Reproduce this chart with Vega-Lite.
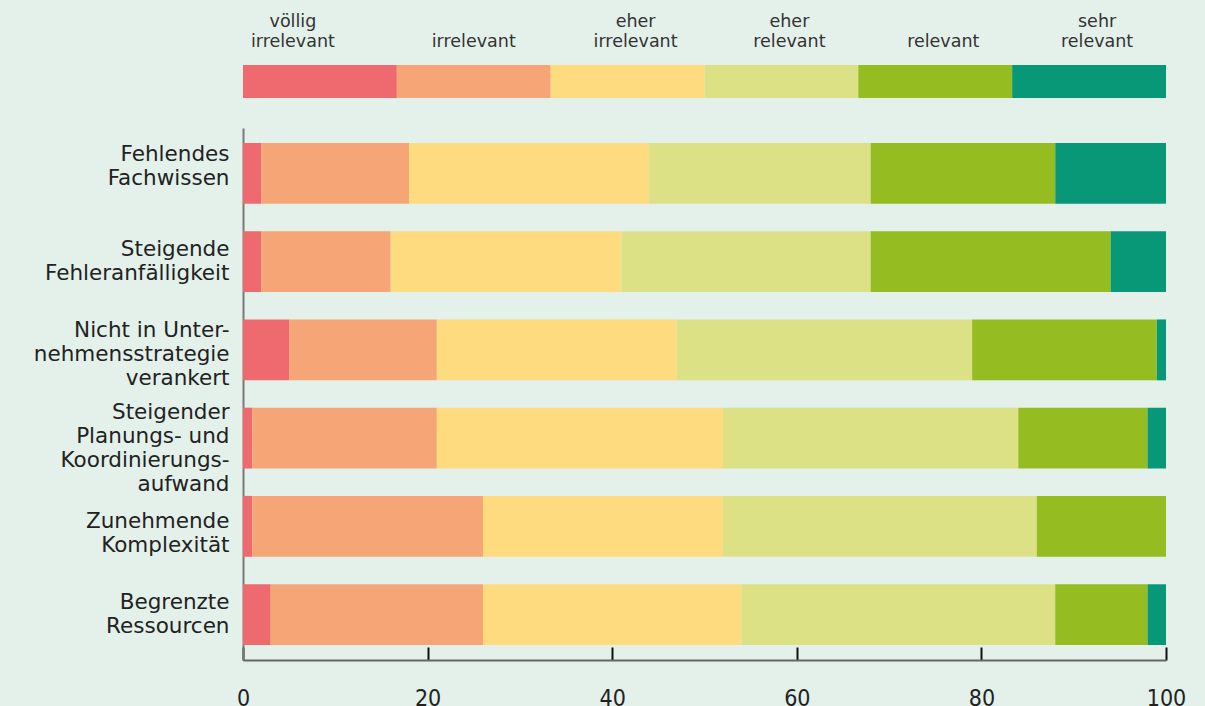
{
  "$schema": "https://vega.github.io/schema/vega-lite/v6.json",
  "background": "#e3f1ea",
  "padding": {"left": 0, "top": 0, "right": 20, "bottom": 0},
  "config": {
    "view": {"stroke": null},
    "font": "DejaVu Sans",
    "concat": {"spacing": 30}
  },
  "datasets": {
    "stufen": [
      {"Bewertung": "völlig\nirrelevant"},
      {"Bewertung": "irrelevant"},
      {"Bewertung": "eher\nirrelevant"},
      {"Bewertung": "eher\nrelevant"},
      {"Bewertung": "relevant"},
      {"Bewertung": "sehr\nrelevant"}
    ],
    "umfrage": [
      {"Aspekt": "Fehlendes\u00a0\nFachwissen", "Bewertung": "völlig\nirrelevant", "Stufe": 1, "Anteil": 2},
      {"Aspekt": "Fehlendes\u00a0\nFachwissen", "Bewertung": "irrelevant", "Stufe": 2, "Anteil": 16},
      {"Aspekt": "Fehlendes\u00a0\nFachwissen", "Bewertung": "eher\nirrelevant", "Stufe": 3, "Anteil": 26},
      {"Aspekt": "Fehlendes\u00a0\nFachwissen", "Bewertung": "eher\nrelevant", "Stufe": 4, "Anteil": 24},
      {"Aspekt": "Fehlendes\u00a0\nFachwissen", "Bewertung": "relevant", "Stufe": 5, "Anteil": 20},
      {"Aspekt": "Fehlendes\u00a0\nFachwissen", "Bewertung": "sehr\nrelevant", "Stufe": 6, "Anteil": 12},

      {"Aspekt": "Steigende\u00a0\nFehleranfälligkeit", "Bewertung": "völlig\nirrelevant", "Stufe": 1, "Anteil": 2},
      {"Aspekt": "Steigende\u00a0\nFehleranfälligkeit", "Bewertung": "irrelevant", "Stufe": 2, "Anteil": 14},
      {"Aspekt": "Steigende\u00a0\nFehleranfälligkeit", "Bewertung": "eher\nirrelevant", "Stufe": 3, "Anteil": 25},
      {"Aspekt": "Steigende\u00a0\nFehleranfälligkeit", "Bewertung": "eher\nrelevant", "Stufe": 4, "Anteil": 27},
      {"Aspekt": "Steigende\u00a0\nFehleranfälligkeit", "Bewertung": "relevant", "Stufe": 5, "Anteil": 26},
      {"Aspekt": "Steigende\u00a0\nFehleranfälligkeit", "Bewertung": "sehr\nrelevant", "Stufe": 6, "Anteil": 6},

      {"Aspekt": "Nicht in Unter-\u00a0\nnehmensstrategie\u00a0\nverankert", "Bewertung": "völlig\nirrelevant", "Stufe": 1, "Anteil": 5},
      {"Aspekt": "Nicht in Unter-\u00a0\nnehmensstrategie\u00a0\nverankert", "Bewertung": "irrelevant", "Stufe": 2, "Anteil": 16},
      {"Aspekt": "Nicht in Unter-\u00a0\nnehmensstrategie\u00a0\nverankert", "Bewertung": "eher\nirrelevant", "Stufe": 3, "Anteil": 26},
      {"Aspekt": "Nicht in Unter-\u00a0\nnehmensstrategie\u00a0\nverankert", "Bewertung": "eher\nrelevant", "Stufe": 4, "Anteil": 32},
      {"Aspekt": "Nicht in Unter-\u00a0\nnehmensstrategie\u00a0\nverankert", "Bewertung": "relevant", "Stufe": 5, "Anteil": 20},
      {"Aspekt": "Nicht in Unter-\u00a0\nnehmensstrategie\u00a0\nverankert", "Bewertung": "sehr\nrelevant", "Stufe": 6, "Anteil": 1},

      {"Aspekt": "Steigender\u00a0\nPlanungs- und\u00a0\nKoordinierungs-\u00a0\naufwand\u00a0", "Bewertung": "völlig\nirrelevant", "Stufe": 1, "Anteil": 1},
      {"Aspekt": "Steigender\u00a0\nPlanungs- und\u00a0\nKoordinierungs-\u00a0\naufwand\u00a0", "Bewertung": "irrelevant", "Stufe": 2, "Anteil": 20},
      {"Aspekt": "Steigender\u00a0\nPlanungs- und\u00a0\nKoordinierungs-\u00a0\naufwand\u00a0", "Bewertung": "eher\nirrelevant", "Stufe": 3, "Anteil": 31},
      {"Aspekt": "Steigender\u00a0\nPlanungs- und\u00a0\nKoordinierungs-\u00a0\naufwand\u00a0", "Bewertung": "eher\nrelevant", "Stufe": 4, "Anteil": 32},
      {"Aspekt": "Steigender\u00a0\nPlanungs- und\u00a0\nKoordinierungs-\u00a0\naufwand\u00a0", "Bewertung": "relevant", "Stufe": 5, "Anteil": 14},
      {"Aspekt": "Steigender\u00a0\nPlanungs- und\u00a0\nKoordinierungs-\u00a0\naufwand\u00a0", "Bewertung": "sehr\nrelevant", "Stufe": 6, "Anteil": 2},

      {"Aspekt": "Zunehmende\u00a0\nKomplexität", "Bewertung": "völlig\nirrelevant", "Stufe": 1, "Anteil": 1},
      {"Aspekt": "Zunehmende\u00a0\nKomplexität", "Bewertung": "irrelevant", "Stufe": 2, "Anteil": 25},
      {"Aspekt": "Zunehmende\u00a0\nKomplexität", "Bewertung": "eher\nirrelevant", "Stufe": 3, "Anteil": 26},
      {"Aspekt": "Zunehmende\u00a0\nKomplexität", "Bewertung": "eher\nrelevant", "Stufe": 4, "Anteil": 34},
      {"Aspekt": "Zunehmende\u00a0\nKomplexität", "Bewertung": "relevant", "Stufe": 5, "Anteil": 14},
      {"Aspekt": "Zunehmende\u00a0\nKomplexität", "Bewertung": "sehr\nrelevant", "Stufe": 6, "Anteil": 0},

      {"Aspekt": "Begrenzte\u00a0\nRessourcen", "Bewertung": "völlig\nirrelevant", "Stufe": 1, "Anteil": 3},
      {"Aspekt": "Begrenzte\u00a0\nRessourcen", "Bewertung": "irrelevant", "Stufe": 2, "Anteil": 23},
      {"Aspekt": "Begrenzte\u00a0\nRessourcen", "Bewertung": "eher\nirrelevant", "Stufe": 3, "Anteil": 28},
      {"Aspekt": "Begrenzte\u00a0\nRessourcen", "Bewertung": "eher\nrelevant", "Stufe": 4, "Anteil": 34},
      {"Aspekt": "Begrenzte\u00a0\nRessourcen", "Bewertung": "relevant", "Stufe": 5, "Anteil": 10},
      {"Aspekt": "Begrenzte\u00a0\nRessourcen", "Bewertung": "sehr\nrelevant", "Stufe": 6, "Anteil": 2}
    ]
  },
  "vconcat": [
    {
      "data": {"name": "stufen"},
      "width": 923,
      "height": 33,
      "mark": {"type": "rect"},
      "encoding": {
        "x": {
          "field": "Bewertung",
          "type": "nominal",
          "sort": null,
          "scale": {"paddingInner": 0, "paddingOuter": 0},
          "axis": {
            "orient": "top",
            "title": null,
            "domain": false,
            "ticks": false,
            "tickSize": 0,
            "labelAngle": 0,
            "labelExpr": "split(datum.label, '\\n')",
            "labelFontSize": 17.5,
            "labelLineHeight": 20,
            "labelColor": "#333333",
            "labelPadding": {"condition": {"test": "indexof(datum.value, '\\n') >= 0", "value": 35}, "value": 15},
            "labelOffset": {
              "condition": [
                {"test": "datum.value == 'völlig\\nirrelevant'", "value": -27},
                {"test": "datum.value == 'irrelevant'", "value": 0}
              ],
              "value": 8
            },
            "minExtent": 65,
            "maxExtent": 65
          }
        },
        "color": {
          "field": "Bewertung",
          "type": "nominal",
          "sort": null,
          "scale": {
            "domain": ["völlig\nirrelevant", "irrelevant", "eher\nirrelevant", "eher\nrelevant", "relevant", "sehr\nrelevant"],
            "range": ["#ee6a6e", "#f5a576", "#fddb7e", "#dce186", "#95bd22", "#089878"]
          },
          "legend": null
        }
      }
    },
    {
      "data": {"name": "umfrage"},
      "width": 923,
      "height": 532,
      "mark": {"type": "bar"},
      "encoding": {
        "y": {
          "field": "Aspekt",
          "type": "nominal",
          "sort": null,
          "scale": {"paddingInner": 0.31, "paddingOuter": 0.17},
          "axis": {
            "title": null,
            "ticks": false,
            "tickSize": 0,
            "domainColor": "#7a7a7a",
            "domainWidth": 2,
            "labelExpr": "split(datum.label, '\\n')",
            "labelFontSize": 21.5,
            "labelLineHeight": 24,
            "labelColor": "#222222",
            "labelPadding": 14,
            "labelLimit": 400,
            "labelOffset": {
              "condition": [
                {"test": "indexof(datum.value, 'Fehlendes') == 0", "value": -18},
                {"test": "indexof(datum.value, 'Zunehmende') == 0", "value": -4},
                {"test": "length(split(datum.value, '\\n')) == 2", "value": -12},
                {"test": "length(split(datum.value, '\\n')) == 3", "value": -19}
              ],
              "value": -25
            },
            "minExtent": 243,
            "maxExtent": 243
          }
        },
        "x": {
          "field": "Anteil",
          "type": "quantitative",
          "stack": "zero",
          "scale": {"domain": [0, 100], "nice": false},
          "axis": {
            "title": null,
            "values": [0, 20, 40, 60, 80, 100],
            "grid": false,
            "domainColor": "#666666",
            "domainWidth": 2,
            "tickColor": "#111111",
            "tickWidth": 2,
            "tickSize": -13,
            "labelFont": "DejaVu Sans Condensed",
            "labelFontSize": 23,
            "labelColor": "#222222",
            "labelPadding": 40,
            "labelFlush": false
          }
        },
        "color": {
          "field": "Bewertung",
          "type": "nominal",
          "scale": {
            "domain": ["völlig\nirrelevant", "irrelevant", "eher\nirrelevant", "eher\nrelevant", "relevant", "sehr\nrelevant"],
            "range": ["#ee6a6e", "#f5a576", "#fddb7e", "#dce186", "#95bd22", "#089878"]
          },
          "legend": null
        },
        "order": {"field": "Stufe", "type": "quantitative", "sort": "ascending"}
      }
    }
  ]
}
